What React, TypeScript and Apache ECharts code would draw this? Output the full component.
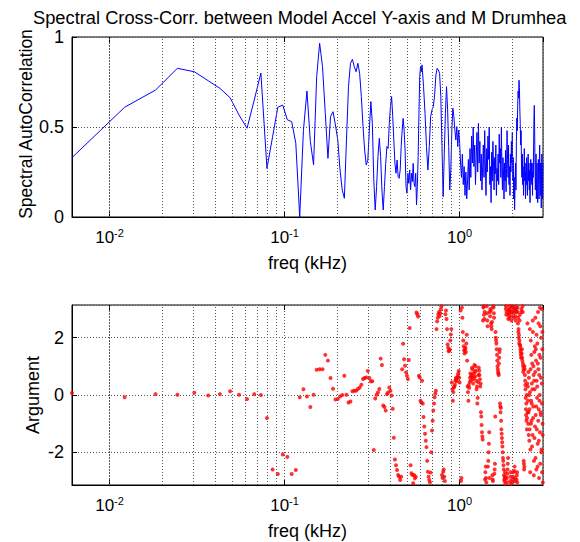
import React, { useEffect, useRef } from "react";
import * as echarts from "echarts";

const FREQ_STEP_KHZ = 0.0061035;
const X_MIN = 0.0061035;
const X_MAX = 2.997;
const TITLE = "Spectral Cross-Corr. between Model Accel Y-axis and M Drumhea";
const X_NAME = "freq (kHz)";
const Y_NAME_TOP = "Spectral AutoCorrelation";
const Y_NAME_BOTTOM = "Argument";
const MINOR_FREQS = [0.007, 0.008, 0.009, 0.02, 0.03, 0.04, 0.05, 0.06, 0.07, 0.08, 0.09, 0.2, 0.3, 0.4, 0.5, 0.6, 0.7, 0.8, 0.9, 2];

// coherence magnitude, bins 1..100
const LINE_LOW = [
  0.33, 0.61, 0.705, 0.826, 0.807, 0.757, 0.715, 0.663, 0.567, 0.493,
  0.65, 0.8, 0.27, 0.446, 0.61, 0.622, 0.54, 0.53, 0.41, 0.0,
  0.48, 0.7, 0.42, 0.29, 0.78, 0.965, 0.835, 0.576, 0.326, 0.558,
  0.585, 0.511, 0.428, 0.261, 0.15, 0.104, 0.428, 0.724, 0.854, 0.876,
  0.835, 0.807, 0.854, 0.798, 0.669, 0.502, 0.372, 0.289, 0.316, 0.483,
  0.641, 0.52, 0.206, 0.039, 0.169, 0.335, 0.437, 0.335, 0.15, 0.039,
  0.169, 0.298, 0.391, 0.381, 0.52, 0.613, 0.669, 0.558, 0.428, 0.298,
  0.243, 0.316, 0.224, 0.215, 0.261, 0.391, 0.483, 0.548, 0.483, 0.372,
  0.169, 0.132, 0.243, 0.187, 0.261, 0.15, 0.243, 0.197, 0.298, 0.187,
  0.169, 0.243, 0.067, 0.169, 0.335, 0.576, 0.78, 0.835, 0.807, 0.845,
];
// bins 102..164 step 2
const LINE_MID = [
  0.724, 0.576, 0.391, 0.261, 0.391, 0.558, 0.595, 0.613, 0.678, 0.789,
  0.826, 0.817, 0.798, 0.669, 0.391, 0.113, 0.354, 0.576, 0.724, 0.595,
  0.391, 0.15, 0.261, 0.483, 0.604, 0.558, 0.483, 0.428, 0.502, 0.391,
  0.483, 0.409,
];
// bins 166..490 step 2
const LINE_HIGH = [
  0.3, 0.22, 0.35, 0.18, 0.28, 0.12, 0.25, 0.1, 0.2, 0.32, 0.15, 0.38, 0.22, 0.45, 0.3, 0.5, 0.28, 0.4,
  0.18, 0.33, 0.47, 0.25, 0.52, 0.3, 0.42, 0.2, 0.35, 0.15, 0.28, 0.4, 0.22, 0.48, 0.3, 0.12, 0.38, 0.25, 0.45, 0.32,
  0.5, 0.18, 0.28, 0.08, 0.36, 0.2, 0.42, 0.3, 0.15, 0.33, 0.24, 0.4, 0.12, 0.27, 0.2, 0.35, 0.18, 0.46, 0.3, 0.38,
  0.22, 0.5, 0.28, 0.15, 0.33, 0.25, 0.1, 0.3, 0.2, 0.37, 0.14, 0.27, 0.48, 0.32, 0.22, 0.4, 0.18, 0.28, 0.12, 0.35,
  0.25, 0.42, 0.3, 0.47, 0.2, 0.33, 0.1, 0.22, 0.04, 0.18, 0.3, 0.15, 0.42, 0.55, 0.48, 0.62, 0.7, 0.66, 0.76, 0.72,
  0.6, 0.52, 0.4, 0.48, 0.3, 0.22, 0.35, 0.18, 0.28, 0.12, 0.24, 0.38, 0.2, 0.3, 0.1, 0.25, 0.18, 0.33, 0.22, 0.12,
  0.28, 0.35, 0.2, 0.3, 0.15, 0.26, 0.08, 0.22, 0.32, 0.2, 0.3, 0.18, 0.25, 0.12, 0.3, 0.22, 0.4, 0.55, 0.62, 0.48,
  0.28, 0.15, 0.22, 0.35, 0.1, 0.2, 0.3, 0.14, 0.08, 0.22, 0.32, 0.18, 0.1, 0.25, 0.4, 0.2, 0.12, 0.3, 0.22, 0.05,
  0.28, 0.35, 0.18, 0.1, 0.3,
];

// phase (rad), bins 1..100
const PHASE_LOW = [
  0.07, -0.08, 0.03, 0.01, 0.08, -0.02, 0.03, 0.13, 0.01, -0.14,
  0.03, 0.0, -0.8, -2.6, -2.76, -2.08, -2.16, -2.76, -2.62, -0.08,
  0.2, -0.05, -0.42, 0.01, 0.88, 0.9, 0.9, 1.4, 1.2, 0.59,
  0.22, -0.16, -0.14, -0.05, 0.0, 0.67, 0.01, -0.26, -0.23, 0.13,
  0.15, 0.15, 0.21, 0.26, 0.36, 0.56, 0.59, 0.61, 0.84, 0.59,
  0.48, 0.48, -1.92, -0.12, 0.01, 0.09, 0.21, 1.27, 1.05, -0.37,
  -0.42, -0.54, 0.03, 0.09, 0.26, 0.15, -0.02, -0.48, -1.49, -2.25,
  -2.45, -2.62, -2.79, -2.85, -2.97, -2.85, 0.9, 1.79, 1.25, 1.02,
  0.79, 0.67, 0.56, 1.22, 2.34, -2.45, -2.73, -2.79, -3.08, -2.79,
  -2.91, -2.85, 2.88, 2.82, 2.74, 0.67, 0.61, -0.2, -0.26, 0.5,
];
// bins 102..164 step 2
const PHASE_MID = [
  -0.77, -1.35, -1.82, -2.68, -2.97, -2.71, -1.24, -0.54, -0.08, 0.15,
  2.57, 2.82, 2.76, 2.99, -2.79, -2.68, -2.85, 2.82, 2.65, 1.76,
  1.53, 1.59, 2.11, 0.44, -0.2, 0.26, 0.36, 0.59, 0.48, 0.67,
  0.84, 0.44,
];
// bins 166..490 step 2
const PHASE_HIGH = [
  2.95, -2.9, 2.7, 1.9, 1.55, 1.6, 1.5, 2.1, 0.3, -0.2, 0.25, 0.6, 0.5, 0.7, 0.9, 0.4, 0.6, 0.8,
  1.0, 0.5, 0.3, -0.1, 0.7, 0.85, 0.55, 0.4, -0.75, -1.3, -1.55, 3.05, 2.8, 2.9, -2.7, -2.9, 3.1, 2.6, -2.5, -2.0,
  -1.3, 2.9, 3.0, 2.5, 2.3, -2.8, -3.0, 3.05, 2.7, -2.6, -0.75, 2.0, 1.8, 1.4, 1.0, 0.8, 0.7, 1.3, 1.6, -0.4,
  -0.45, -1.2, -1.5, -1.8, -2.2, -2.45, -2.8, -3.0, -2.7, -2.9, 3.1, 2.9, -3.05, -2.6, -2.2, 2.8, 3.0, 2.7, 2.95, -2.85,
  -3.1, 2.6, 3.05, 2.9, -2.95, -2.7, 2.85, 3.0, -2.5, -3.0, 2.75, 3.1, 2.9, -2.8, -3.05, 3.05, 2.7, 2.3, 2.1, 1.9,
  2.8, 1.7, 1.5, 1.3, 3.0, 1.6, 1.2, 2.9, 1.0, 0.9, -2.4, -2.5, 0.9, 0.5, 0.2, -0.5, -0.3, 0.0, -0.8, 2.5,
  0.3, -1.0, -0.6, 0.6, -1.6, -1.2, 0.1, -1.9, 1.9, -0.2, -0.9, 0.4, 1.1, -1.4, 2.2, -0.4, 0.7, -2.3, 1.5, 0.2,
  -1.1, 2.7, -0.7, 1.2, -2.6, 0.5, -0.1, 1.8, -1.7, 2.9, 0.9, -0.5, -2.9, 1.4, 0.0, -1.3, 2.4, -0.6, 0.6, -2.0,
  3.0, -0.3, 1.6, -1.0, -3.05,
];
// phase, odd bins 101..163
const PHASE_ODD_MID = [
  -0.3, -1.1, -1.6, -2.3, -2.85, -3.05, -2.0, -0.9, -0.3, 0.05,
  2.3, 2.7, 2.9, 2.85, 3.1, -2.9, -2.6, -3.0, 2.95, 2.3,
  1.65, 1.55, 1.9, 2.3, 0.2, 0.1, 0.3, 0.5, 0.55, 0.6,
  0.75, 0.6,
];
// phase, odd bins 167..489
const PHASE_ODD_HIGH = [
  -3.0, 3.05, 2.2, 1.7, 1.45, 1.65, 1.8, 1.2, 0.1, 0.35,
  0.45, 0.75, 0.65, 0.95, 0.55, 0.75, 1.05, 0.65, 0.85, 0.2,
  -0.3, 0.45, 0.95, 0.7, 0.3, -0.6, -1.05, -1.45, 2.6, 3.1,
  2.65, -2.95, -2.5, -3.05, 2.85, 2.4, -2.3, -1.7,
  -2.9, 2.75, 2.95, 2.4, 2.55, -2.95, 3.1, 2.85, -2.75, -2.4, 2.2, 1.9, 1.6, 1.2, 0.9, 0.75, 1.1, 1.5, -0.3, -0.6,
  -0.9, -1.35, -1.65, -2.0, -2.3, -2.6, -2.95, -2.85, -3.1, 3.0, 2.8, -2.9, -2.75, -2.4, 2.65, 2.95, 2.85, 3.1, -3.0, -2.7,
  2.9, 2.75, 3.1, -3.05, -2.85, 3.05, 2.7, -2.65, -2.9, 2.95, 2.6, 3.0, -2.95, -2.7, 2.9, 2.5, 2.2, 2.0, 1.8, 2.6,
  1.75, 1.6, 1.4, 2.9, 1.45, 1.3, 3.1, 1.1, 0.8, -2.3, -2.6, 1.0, 0.7, 0.35, -0.1, -0.7, -0.9, -1.2, 0.4, -0.6,
  -0.2, 0.8, -1.4, 0.0, -0.5, 2.3, -2.7, 0.9, -1.0, 1.4, -0.3, -1.8, 0.2, 2.6, -0.8, 1.0, -2.8, 0.5, -1.5, 1.7,
  0.8, -2.2, 1.6, -0.4, 2.1, -1.2, 0.3, -2.5, 1.1, -0.9, 2.5, -1.6, 0.7, -0.2, 3.05, -2.4, 1.3, -0.7, 2.0, -1.9,
  0.4, -2.7, 2.2, -1.4,
];

const FONT = "'Liberation Sans', Arial, Helvetica, sans-serif";

function buildBins(): number[] {
  const bins: number[] = [];
  for (let k = 1; k <= 100; k++) bins.push(k);
  for (let k = 102; k <= 490; k += 2) bins.push(k);
  return bins;
}

function buildOddBins(): number[] {
  const bins: number[] = [];
  for (let k = 101; k <= 163; k += 2) bins.push(k);
  for (let k = 167; k <= 489; k += 2) bins.push(k);
  return bins;
}

export default function App() {
  const ref = useRef<HTMLDivElement>(null);

  useEffect(() => {
    if (!ref.current) return;
    const chart = echarts.init(ref.current, undefined, { renderer: "svg" });
    const bins = buildBins();
    const oddBins = buildOddBins();
    const mag = [...LINE_LOW, ...LINE_MID, ...LINE_HIGH];
    const ph = [...PHASE_LOW, ...PHASE_MID, ...PHASE_HIGH];
    const phOdd = [...PHASE_ODD_MID, ...PHASE_ODD_HIGH];
    const lineData = bins.map((k, i) => [k * FREQ_STEP_KHZ, mag[i]]);
    const phaseData = [
      ...bins.map((k, i) => [k * FREQ_STEP_KHZ, ph[i]]),
      ...oddBins.map((k, i) => [k * FREQ_STEP_KHZ, phOdd[i]]),
    ];

    const gridLine = { color: "#555", type: [1, 2] as number[], width: 1 };
    const minorMark = {
      silent: true,
      symbol: ["none", "none"],
      label: { show: false },
      lineStyle: gridLine,
      emphasis: { disabled: true },
      data: MINOR_FREQS.map((f) => ({ xAxis: f })),
    };

    const xAxisBase = (gridIndex: number) => ({
      type: "log" as const,
      logBase: 10,
      gridIndex,
      min: X_MIN,
      max: X_MAX,
      name: X_NAME,
      nameLocation: "middle" as const,
      nameGap: 37,
      nameTextStyle: { fontSize: 18, fontFamily: FONT, color: "#000" },
      axisLine: { show: true, onZero: false, lineStyle: { color: "#000", width: 1 } },
      axisTick: { show: true, inside: true, length: 5, lineStyle: { color: "#000" } },
      splitLine: { show: true, lineStyle: gridLine },
      axisLabel: {
        margin: 10,
        showMinLabel: false,
        showMaxLabel: false,
        formatter: (v: number) => `{b|10}{s|${Math.round(Math.log10(v))}}`,
        rich: {
          b: { fontSize: 17, fontFamily: FONT, color: "#000", lineHeight: 20 },
          s: { fontSize: 11, fontFamily: FONT, color: "#000", verticalAlign: "top", lineHeight: 12 },
        },
      },
    });

    const xAxisTop = (gridIndex: number) => ({
      type: "log" as const,
      logBase: 10,
      gridIndex,
      min: X_MIN,
      max: X_MAX,
      position: "top" as const,
      axisLine: { show: false, onZero: false },
      axisTick: { show: true, inside: true, length: 5, lineStyle: { color: "#000" } },
      splitLine: { show: false },
      axisLabel: { show: false },
    });

    const yLabel = { fontSize: 18, fontFamily: FONT, color: "#000", margin: 8 };

    chart.setOption({
      animation: false,
      backgroundColor: "#fff",
      grid: [
        { left: 72, top: 37, width: 471, height: 180, show: true, borderColor: "#000", borderWidth: 1, backgroundColor: "#fff" },
        { left: 72, top: 305, width: 471, height: 180, show: true, borderColor: "#000", borderWidth: 1, backgroundColor: "#fff" },
      ],
      xAxis: [xAxisBase(0), xAxisBase(1), xAxisTop(0), xAxisTop(1)],
      yAxis: [
        {
          type: "value",
          gridIndex: 0,
          min: 0,
          max: 1,
          interval: 0.5,
          axisLine: { show: true, onZero: false, lineStyle: { color: "#000" } },
          axisTick: { show: true, inside: true, length: 5, lineStyle: { color: "#000" } },
          splitLine: { show: true, lineStyle: gridLine },
          axisLabel: yLabel,
        },
        {
          type: "value",
          gridIndex: 1,
          min: -Math.PI,
          max: Math.PI,
          splitNumber: 3,
          axisLine: { show: true, onZero: false, lineStyle: { color: "#000" } },
          axisTick: { show: true, inside: true, length: 5, lineStyle: { color: "#000" } },
          splitLine: { show: true, lineStyle: gridLine },
          axisLabel: { ...yLabel, showMinLabel: false, showMaxLabel: false },
        },
      ],
      graphic: [
        {
          type: "text",
          x: 33,
          y: 17,
          style: { text: TITLE, fontSize: 18.3, fontFamily: FONT, fill: "#000", textAlign: "left", textVerticalAlign: "middle" },
        },
        {
          type: "text",
          x: 26,
          y: 124,
          rotation: Math.PI / 2,
          style: { text: Y_NAME_TOP, fontSize: 17.5, fontFamily: FONT, fill: "#000", textAlign: "center", textVerticalAlign: "middle" },
        },
        {
          type: "text",
          x: 33,
          y: 395,
          rotation: Math.PI / 2,
          style: { text: Y_NAME_BOTTOM, fontSize: 18, fontFamily: FONT, fill: "#000", textAlign: "center", textVerticalAlign: "middle" },
        },
      ],
      series: [
        {
          type: "line",
          xAxisIndex: 0,
          yAxisIndex: 0,
          data: lineData,
          showSymbol: false,
          symbol: "none",
          lineStyle: { color: "#0000ff", width: 1 },
          clip: true,
          markLine: minorMark,
        },
        {
          type: "scatter",
          xAxisIndex: 1,
          yAxisIndex: 1,
          data: phaseData,
          symbol: "circle",
          symbolSize: 4,
          itemStyle: { color: "#ff0000" },
          clip: true,
          markLine: minorMark,
        },
      ],
    });
    return () => chart.dispose();
  }, []);

  return <div ref={ref} style={{ position: "fixed", left: 0, top: 0, width: 580, height: 542 }} />;
}
